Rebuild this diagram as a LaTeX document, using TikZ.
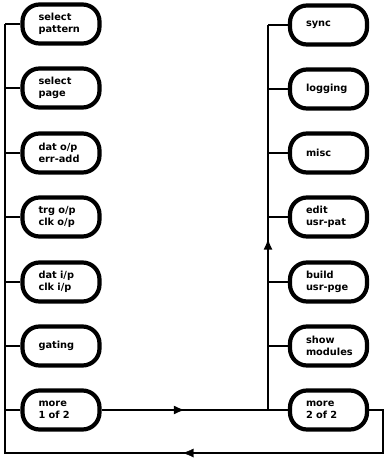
\documentclass[tikz,border=0pt]{standalone}
\usepackage{fontspec}
\setmainfont{DejaVu Sans}
\usetikzlibrary{arrows.meta,decorations.markings}
\tikzset{
  menubox/.style={draw, line width=4.2pt, rounded corners=17pt, minimum width=77, minimum height=39,
    inner xsep=0pt, inner ysep=2pt, text width=45, align=left,
    font=\bfseries\fontsize{9.8}{12}\selectfont},
  wire/.style={line width=1.4pt},
  midarrow/.style={postaction={decorate}, decoration={markings,
    mark=at position #1 with {\arrow{Latex[length=11pt,width=9pt]}}}}
}
\begin{document}
\begin{tikzpicture}[x=1pt,y=-1pt]
\useasboundingbox (0,0) rectangle (385,460);
% left column
\node[menubox] (l1) at (61,24)  {select\\pattern};
\node[menubox] (l2) at (61,88)  {select\\page};
\node[menubox] (l3) at (61,153) {dat o/p\\err-add};
\node[menubox] (l4) at (61,217) {trg o/p\\clk o/p};
\node[menubox] (l5) at (61,282) {dat i/p\\clk i/p};
\node[menubox] (l6) at (61,346) {gating};
\node[menubox] (l7) at (61,410) {more\\1 of 2};
% right column
\node[menubox] (r1) at (328.5,25)  {sync};
\node[menubox] (r2) at (328.5,89)  {logging};
\node[menubox] (r3) at (328.5,153) {misc};
\node[menubox] (r4) at (328.5,217) {edit\\usr-pat};
\node[menubox] (r5) at (328.5,282) {build\\usr-pge};
\node[menubox] (r6) at (328.5,346) {show\\modules};
\node[menubox] (r7) at (328.5,410) {more\\2 of 2};
% coordinates
\coordinate (jr) at (268,410);
\coordinate (rt) at (268,25);
\coordinate (c1) at (383,410);
\coordinate (c2) at (383,453);
\coordinate (c3) at (5,453);
\coordinate (c4) at (5,24);
% left bus
\draw[wire] (r7.east) -- (c1) -- (c2) -- (c3) -- (c4);
\path[midarrow=0.53] (c2) -- (c3);
\foreach \n in {l1,l2,l3,l4,l5,l6,l7}
  \draw[wire] (\n.west) -- (\n.west -| c4);
% middle connection
\draw[wire, midarrow=0.50] (l7.east) -- (jr);
\draw[wire, midarrow=0.445] (jr) -- (rt);
\foreach \n in {r1,r2,r3,r4,r5,r6,r7}
  \draw[wire] (\n.west) -- (\n.west -| jr);
\end{tikzpicture}
\end{document}
